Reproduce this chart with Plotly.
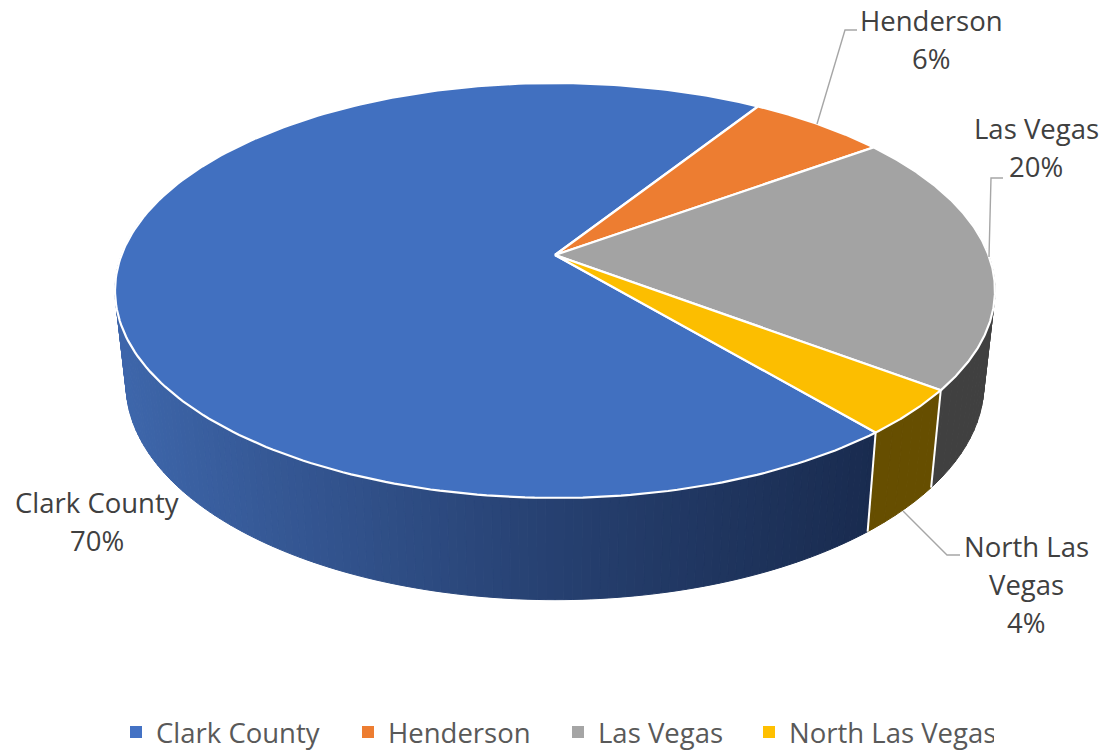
import numpy as np
import plotly.graph_objects as go

categories = ["Clark County", "Henderson", "Las Vegas", "North Las Vegas"]
values = [70.1, 6.0, 20.3, 3.6]
colors = ["#4472C4", "#ED7D31", "#A5A5A5", "#FFC000"]
top_colors = ["#4170C0", "#ED7D31", "#A3A3A3", "#FCBE00"]
wall_colors = [None, "#7A4018", "#404040", "#664E00"]
label_lines = [["Clark County"], ["Henderson"], ["Las Vegas"], ["North Las", "Vegas"]]
label_pos = [(97, 502), (931, 20), (1036, 128), (1026, 546)]
leaders = [None,
           ([817, 845, 857], [124, 30, 30]),
           ([989, 991, 1003], [257, 178, 178]),
           ([903, 947, 960], [511, 555, 555])]
legend_widths = [187, 165, 146, 200]

START = 140.0
P, KY, KX = 0.171, 201.4, 433.5
CX, CY = 555.0, 255.0
SX, SY, DY = 0.975, 1.04, 92.0
LINE_GAP = 38
FONT = "Open Sans"
FONT_SIZE = 27.5


def top(theta):
    t = np.radians(theta)
    u, v = np.sin(t), -np.cos(t)
    w = 1 - P * v
    return CX + KX * u / w, CY + KY * v / w


def bottom(theta):
    x, y = top(theta)
    return CX + SX * (x - CX), CY + DY + SY * (y - CY)


def lerp_blue(x):
    stops_x = [120, 300, 555, 868]
    r = np.interp(x, stops_x, [62, 52, 38, 25])
    g = np.interp(x, stops_x, [103, 86, 64, 43])
    b = np.interp(x, stops_x, [172, 146, 112, 79])
    return f"rgb({r:.0f},{g:.0f},{b:.0f})"


total = sum(values)
edges = [START]
for v in values:
    edges.append(edges[-1] + v / total * 360)
# slice boundaries on the front of the disc: end of Las Vegas and end of North Las Vegas
las_vegas_end = edges[3] - 360
north_end = edges[4] - 360

fig = go.Figure()


def quad(a, b, color):
    xa, ya = top(a)
    xb, yb = top(b)
    xc, yc = bottom(b)
    xd, yd = bottom(a)
    fig.add_trace(go.Scatter(
        x=[xa, xb, xc, xd, xa], y=[ya, yb, yc, yd, ya], mode="lines",
        fill="toself", fillcolor=color, line=dict(color=color, width=1),
        hoverinfo="skip", showlegend=False))


# outer walls: angles run clockwise from the back of the disc
for a in np.arange(north_end, 280.0, 1.0):
    xm, _ = bottom(a + 0.5)
    quad(a, a + 1.0, lerp_blue(xm))
for a in np.arange(80.0, las_vegas_end, 2.0):
    quad(a, min(a + 2.0, las_vegas_end), wall_colors[2])
for a in np.arange(las_vegas_end, north_end, 2.0):
    quad(a, min(a + 2.0, north_end), wall_colors[3])
# white seams on the wall
for a in [las_vegas_end, north_end]:
    xa, ya = top(a)
    xb, yb = bottom(a)
    fig.add_trace(go.Scatter(x=[xa, xb], y=[ya, yb], mode="lines",
                             line=dict(color="white", width=2), hoverinfo="skip", showlegend=False))

# top faces
for i, name in enumerate(categories):
    th = np.linspace(edges[i], edges[i + 1], 240)
    px, py = top(th)
    fig.add_trace(go.Scatter(
        x=np.r_[CX, px, CX], y=np.r_[CY, py, CY], mode="lines", fill="toself",
        fillcolor=top_colors[i], line=dict(color="white", width=2.2),
        name=name, hoverinfo="skip", showlegend=False))

# leader lines
for ld in leaders:
    if ld:
        fig.add_trace(go.Scatter(x=ld[0], y=ld[1], mode="lines",
                                 line=dict(color="#A6A6A6", width=1.4),
                                 hoverinfo="skip", showlegend=False))

# legend
for i, name in enumerate(categories):
    fig.add_trace(go.Scatter(x=[None], y=[None], mode="markers", name=name,
                             marker=dict(symbol="square", size=12, color=colors[i]),
                             legendwidth=legend_widths[i]))

annotations = []
for i, lines in enumerate(label_lines):
    x0, y0 = label_pos[i]
    rows = lines + [f"{round(values[i])}%"]
    for j, row in enumerate(rows):
        annotations.append(dict(x=x0, y=y0 + j * LINE_GAP, text=row, showarrow=False,
                                xanchor="center", yanchor="middle",
                                font=dict(family=FONT, size=FONT_SIZE, color="#404040")))

fig.update_layout(
    width=1104, height=752, margin=dict(l=0, r=0, t=0, b=0, autoexpand=False),
    paper_bgcolor="white", plot_bgcolor="white",
    xaxis=dict(range=[0, 1104], visible=False, fixedrange=True),
    yaxis=dict(range=[752, 0], visible=False, fixedrange=True),
    annotations=annotations,
    legend=dict(orientation="h", x=116 / 1104, xanchor="left", y=1 - 732 / 752, yanchor="middle",
                itemwidth=30, font=dict(family=FONT, size=FONT_SIZE, color="#595959"),
                bgcolor="rgba(0,0,0,0)"),
)
fig.write_html("out.html", config={"displayModeBar": False},
               post_script="document.body.style.margin='0';")
